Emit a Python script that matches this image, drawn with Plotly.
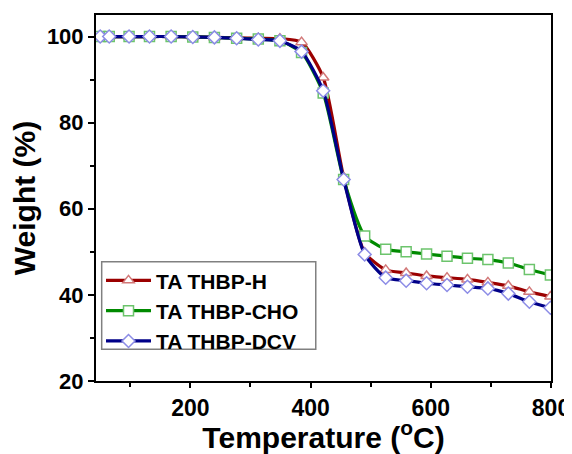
import plotly.graph_objects as go

temps = [50, 65, 98, 132, 168, 204, 240, 277, 313, 349, 385, 421, 455, 490, 525, 559, 593, 627, 661, 695, 729, 764, 799]
weight_h = [100, 100, 100, 100, 100, 99.9, 99.8, 99.7, 99.6, 99.5, 98.7, 90.5, 67.3, 49.8, 45.8, 45.1, 44.4, 44.0, 43.6, 42.9, 42.1, 40.7, 39.6]
weight_cho = [100, 100, 100, 100, 100, 99.9, 99.8, 99.6, 99.4, 99.0, 96.3, 86.9, 66.8, 53.7, 50.6, 50.0, 49.5, 49.0, 48.5, 48.2, 47.4, 45.9, 44.6]
weight_dcv = [100, 100, 100, 100, 100, 99.9, 99.8, 99.6, 99.3, 99.0, 96.5, 87.4, 66.8, 49.4, 44.0, 43.3, 42.7, 42.3, 41.9, 41.5, 40.3, 38.4, 37.0]

series = [
    ("TA THBP-H", weight_h, "#9b0000", "#d27878", "triangle-up"),
    ("TA THBP-CHO", weight_cho, "#008a00", "#6cc46c", "square"),
    ("TA THBP-DCV", weight_dcv, "#000088", "#8c8ce6", "diamond"),
]

fig = go.Figure()
for name, ys, lc, mc, sym in series:
    fig.add_trace(go.Scatter(
        x=temps, y=ys, name=name, mode="lines+markers",
        line=dict(color=lc, width=3.2, shape="spline", smoothing=0.6),
        marker=dict(symbol=sym, size=10, color="white",
                    line=dict(color=mc, width=1.5)),
    ))

font_family = "Liberation Sans, Arial, sans-serif"
# page body adds an 8px margin, so the figure is sized 8px smaller
fig.update_layout(
    width=564, height=446,
    margin=dict(l=88, r=21, t=7, b=73, autoexpand=False),
    plot_bgcolor="white", paper_bgcolor="white",
    font=dict(family=font_family, color="black"),
    showlegend=True,
    legend=dict(x=0.011, y=0.330, xanchor="left", yanchor="top",
                bgcolor="rgba(0,0,0,0)", borderwidth=0,
                font=dict(size=21, family=font_family, weight="bold"),
                itemwidth=45, tracegroupgap=0),
    shapes=[dict(type="rect", xref="paper", yref="paper",
                 x0=0.0125, x1=0.483, y0=0.0866, y1=0.326,
                 line=dict(color="#808080", width=1.5), fillcolor="white", layer="above")],
)
fig.update_xaxes(
    range=[43, 800], showline=True, linecolor="black", linewidth=2, mirror=True,
    ticks="outside", ticklen=5, tickwidth=2, tickcolor="black",
    tickvals=[200, 400, 600, 800], showgrid=False, zeroline=False, automargin=False,
    minor=dict(tickvals=[100, 300, 500, 700], ticks="outside", ticklen=4, tickwidth=2, tickcolor="black"),
    tickfont=dict(size=23, weight="bold"),
    title=dict(text="Temperature (<sup>o</sup>C)", font=dict(size=30, weight="bold"), standoff=4),
)
fig.update_yaxes(
    range=[20, 105], showline=True, linecolor="black", linewidth=2, mirror=True,
    ticks="outside", ticklen=6, tickwidth=2, tickcolor="black",
    tickvals=[20, 40, 60, 80, 100], showgrid=False, zeroline=False, automargin=False,
    minor=dict(tickvals=[30, 50, 70, 90], ticks="outside", ticklen=4, tickwidth=2, tickcolor="black"),
    tickfont=dict(size=22, weight="bold"),
    title=dict(text="Weight (%)", font=dict(size=30, weight="bold"), standoff=2),
)
fig.write_html("out.html")
